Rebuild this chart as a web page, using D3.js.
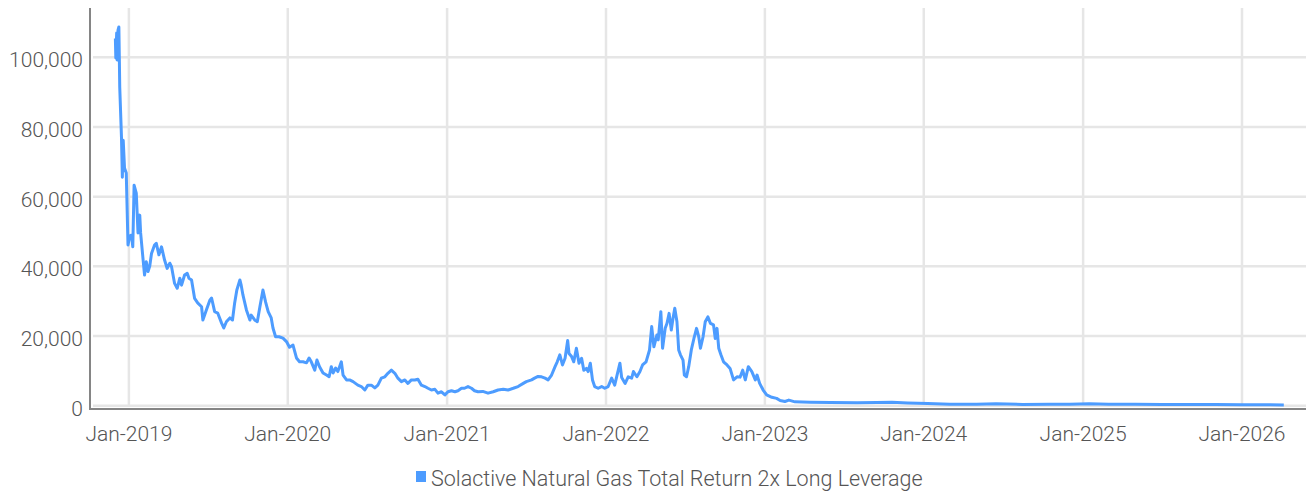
<!DOCTYPE html>
<html lang="en">
<head>
<meta charset="UTF-8">
<script src="https://d3js.org/d3.v7.min.js"></script>
<style>
  body { margin: 0; background: #fff; font-family: Roboto, 'Noto Sans', sans-serif; }
  text.tick-label { font-size: 21px; font-weight: 300; fill: #555; }
  text.legend-label { font-size: 21.5px; font-weight: 300; fill: #555; }
  line.grid { stroke: #e6e6e6; stroke-width: 2.5; }
  line.axis { stroke: #858585; stroke-width: 2; }
  path.series { fill: none; stroke: #4d9cff; stroke-width: 3; stroke-linejoin: round; }
</style>
</head>
<body>
<svg id="chart" width="1306" height="493"></svg>
<script>
// index level
const dates = [
  "2018-12-01","2018-12-02","2018-12-04","2018-12-05","2018-12-07","2018-12-09","2018-12-10","2018-12-11",
  "2018-12-15","2018-12-17","2018-12-19","2018-12-22","2018-12-26","2018-12-30","2019-01-03","2019-01-07",
  "2019-01-10","2019-01-13","2019-01-18","2019-01-22","2019-01-26","2019-01-28","2019-02-02","2019-02-06",
  "2019-02-10","2019-02-14","2019-02-18","2019-02-22","2019-03-01","2019-03-05","2019-03-11","2019-03-17",
  "2019-03-24","2019-03-30","2019-04-05","2019-04-09","2019-04-16","2019-04-22","2019-04-28","2019-05-02",
  "2019-05-09","2019-05-15","2019-05-19","2019-05-25","2019-06-01","2019-06-08","2019-06-17","2019-06-20",
  "2019-06-28","2019-07-06","2019-07-10","2019-07-17","2019-07-24","2019-08-02","2019-08-07","2019-08-13",
  "2019-08-21","2019-08-27","2019-09-01","2019-09-06","2019-09-13","2019-09-16","2019-09-20","2019-09-28",
  "2019-10-06","2019-10-09","2019-10-17","2019-10-23","2019-10-29","2019-11-05","2019-11-11","2019-11-17",
  "2019-11-24","2019-11-28","2019-12-04","2019-12-12","2019-12-21","2019-12-29","2020-01-05","2020-01-13",
  "2020-01-21","2020-01-28","2020-02-05","2020-02-13","2020-02-19","2020-02-24","2020-03-03","2020-03-08",
  "2020-03-14","2020-03-22","2020-03-30","2020-04-05","2020-04-10","2020-04-14","2020-04-20","2020-04-25",
  "2020-04-29","2020-05-03","2020-05-07","2020-05-15","2020-05-22","2020-05-30","2020-06-10","2020-06-18",
  "2020-06-26","2020-07-03","2020-07-11","2020-07-19","2020-07-26","2020-08-03","2020-08-11","2020-08-18",
  "2020-08-26","2020-09-03","2020-09-10","2020-09-18","2020-09-26","2020-10-03","2020-10-11","2020-10-19",
  "2020-10-26","2020-11-03","2020-11-11","2020-11-18","2020-11-26","2020-12-04","2020-12-11","2020-12-19",
  "2020-12-27","2021-01-03","2021-01-11","2021-01-19","2021-01-26","2021-02-03","2021-02-10","2021-02-18",
  "2021-02-26","2021-03-05","2021-03-13","2021-03-24","2021-04-05","2021-04-17","2021-04-28","2021-05-10",
  "2021-05-21","2021-06-02","2021-06-13","2021-06-25","2021-07-02","2021-07-14","2021-07-21","2021-07-29",
  "2021-08-06","2021-08-14","2021-08-21","2021-08-29","2021-09-06","2021-09-11","2021-09-17","2021-09-23",
  "2021-09-29","2021-10-05","2021-10-08","2021-10-14","2021-10-19","2021-10-25","2021-10-31","2021-11-06",
  "2021-11-11","2021-11-17","2021-11-21","2021-11-26","2021-12-01","2021-12-06","2021-12-14","2021-12-22",
  "2021-12-29","2022-01-06","2022-01-14","2022-01-21","2022-02-02","2022-02-06","2022-02-14","2022-02-21",
  "2022-03-01","2022-03-05","2022-03-13","2022-03-20","2022-03-26","2022-04-03","2022-04-11","2022-04-16",
  "2022-04-21","2022-04-28","2022-05-01","2022-05-07","2022-05-11","2022-05-17","2022-05-21","2022-05-26",
  "2022-05-31","2022-06-04","2022-06-08","2022-06-13","2022-06-17","2022-06-21","2022-06-27","2022-06-30",
  "2022-07-05","2022-07-10","2022-07-16","2022-07-22","2022-07-28","2022-08-02","2022-08-06","2022-08-12",
  "2022-08-17","2022-08-23","2022-08-29","2022-09-05","2022-09-09","2022-09-13","2022-09-17","2022-09-22",
  "2022-09-28","2022-10-06","2022-10-13","2022-10-21","2022-10-29","2022-11-05","2022-11-11","2022-11-17",
  "2022-11-24","2022-12-02","2022-12-10","2022-12-14","2022-12-20","2022-12-28","2023-01-05","2023-01-17",
  "2023-01-28","2023-02-05","2023-02-16","2023-02-25","2023-03-11","2023-04-15","2023-06-01","2023-08-01",
  "2023-09-15","2023-10-20","2023-11-25","2024-01-10","2024-03-01","2024-05-01","2024-06-15","2024-08-15",
  "2024-10-15","2024-12-01","2025-01-15","2025-03-01","2025-05-01","2025-07-01","2025-09-01","2025-11-01",
  "2026-01-01","2026-02-15","2026-04-07"
];
const values = [
  105400, 99800, 107000, 99200, 107800, 108700, 100600, 91500,
  77100, 65600, 76200, 68200, 66800, 46100, 48700, 49000,
  45600, 63300, 61000, 49600, 54700, 49600, 42800, 37500,
  41300, 38500, 40100, 43700, 46100, 46600, 43300, 45600,
  41800, 39400, 40900, 39900, 35100, 33700, 36600, 34600,
  37500, 38000, 36600, 36100, 30800, 29500, 28400, 24600,
  27500, 30300, 30900, 27000, 26600, 23700, 22300, 24100,
  25200, 24600, 29500, 33200, 36100, 34600, 31800, 27500,
  24600, 26000, 24600, 24100, 28400, 33200, 29800, 27000,
  25200, 22300, 19800, 19800, 19400, 18400, 16800, 17400,
  13700, 12600, 12600, 12300, 13700, 12600, 10200, 13100,
  11200, 9400, 8800, 8300, 11200, 9400, 10800, 9800,
  11200, 12600, 8800, 7400, 7400, 6900, 5900, 5500,
  4500, 5900, 5900, 5100, 5900, 7900, 8300, 9300,
  10200, 9300, 7900, 6900, 7400, 6400, 7400, 7400,
  7600, 5900, 5500, 5000, 4500, 4700, 3600, 4000,
  3100, 4000, 4300, 4000, 4300, 5000, 5000, 5500,
  5000, 4300, 4000, 4100, 3600, 4000, 4500, 4700,
  4500, 5000, 5500, 6400, 6900, 7400, 7900, 8400,
  8300, 7900, 7400, 8800, 11200, 12600, 14600, 11700,
  13600, 18700, 15000, 14100, 12600, 16500, 12200, 13600,
  10200, 10700, 9800, 12200, 7400, 5500, 5000, 5500,
  5000, 5500, 7900, 5900, 12200, 8100, 6400, 8300,
  7900, 9800, 8300, 9800, 11700, 12600, 16000, 22700,
  16900, 20300, 18900, 27000, 16500, 22200, 23600, 26500,
  21700, 25100, 28000, 24100, 16000, 14600, 13100, 8800,
  8300, 11200, 16000, 19300, 22200, 19800, 16500, 19800,
  24100, 25500, 23600, 23200, 19300, 22200, 16500, 14600,
  12600, 11700, 10700, 7400, 8300, 8200, 10200, 7400,
  11200, 9800, 7400, 8800, 6400, 4500, 3100, 2400,
  2100, 1500, 1200, 1600, 1100, 1000, 900, 850,
  950, 1000, 800, 600, 400, 450, 550, 350,
  400, 450, 550, 450, 400, 350, 330, 320,
  300, 280, 200
];
const yTicks = [0, 20000, 40000, 60000, 80000, 100000];
const xTickYears = [2019, 2020, 2021, 2022, 2023, 2024, 2025, 2026];
const seriesName = "Solactive Natural Gas Total Return 2x Long Leverage";

const parse = d3.timeParse("%Y-%m-%d");
const data = dates.map((d, i) => ({ date: parse(d), value: values[i] }));

const svg = d3.select("#chart");

const plotLeft = 91, plotRight = 1306, plotTop = 8, plotBottom = 405.7;

const x = d3.scaleTime()
  .domain([new Date(2018, 9, 6), new Date(2026, 4, 28)])
  .range([plotLeft, plotRight]);

const y = d3.scaleLinear()
  .domain([0, 114150])
  .range([plotBottom, plotTop]);

const xTicks = xTickYears.map(yr => new Date(yr, 0, 1));
const fmtX = d3.timeFormat("%b-%Y");
const fmtY = d3.format(",");

// grid
svg.append("g").selectAll("line")
  .data(xTicks).enter().append("line")
  .attr("class", "grid")
  .attr("x1", d => x(d)).attr("x2", d => x(d))
  .attr("y1", plotTop).attr("y2", plotBottom);

svg.append("g").selectAll("line")
  .data(yTicks).enter().append("line")
  .attr("class", "grid")
  .attr("x1", plotLeft + 2).attr("x2", plotRight)
  .attr("y1", d => y(d)).attr("y2", d => y(d));

// axis lines
svg.append("line").attr("class", "axis")
  .attr("x1", 90).attr("x2", 90).attr("y1", plotTop).attr("y2", 410);
svg.append("line").attr("class", "axis")
  .attr("x1", 89).attr("x2", plotRight).attr("y1", 409).attr("y2", 409);

// tick labels
svg.append("g").selectAll("text")
  .data(xTicks).enter().append("text")
  .attr("class", "tick-label")
  .attr("text-anchor", "middle")
  .attr("x", d => x(d))
  .attr("y", 441)
  .text(d => fmtX(d));

svg.append("g").selectAll("text")
  .data(yTicks).enter().append("text")
  .attr("class", "tick-label")
  .attr("text-anchor", "end")
  .attr("x", 83)
  .attr("y", d => y(d) + 10)
  .text(d => fmtY(d));

// series
const line = d3.line()
  .x(d => x(d.date))
  .y(d => y(d.value));

svg.append("path")
  .datum(data)
  .attr("class", "series")
  .attr("d", line);

// legend
const legend = svg.append("g");
legend.append("rect")
  .attr("x", 416).attr("y", 471)
  .attr("width", 10).attr("height", 11)
  .attr("fill", "#4d9cff");
legend.append("text")
  .attr("class", "legend-label")
  .attr("x", 431).attr("y", 486)
  .text(seriesName);
</script>
</body>
</html>
